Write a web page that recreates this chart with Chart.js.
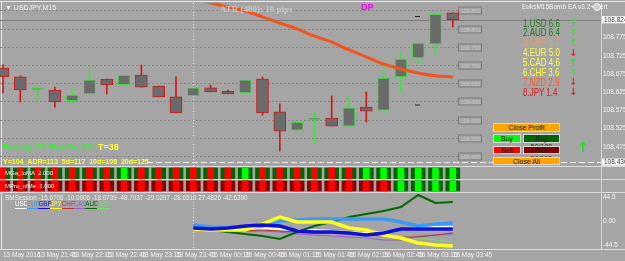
<!DOCTYPE html>
<html>
<head>
<meta charset="utf-8">
<script src="https://cdn.jsdelivr.net/npm/chart.js@4.4.0/dist/chart.umd.min.js"></script>
<style>
  body { margin: 0; width: 625px; height: 261px; overflow: hidden; position: relative; background: #a5a5a5; font-family: "Liberation Sans", Arial, sans-serif; }
  canvas { position: absolute; left: 0; }
  .t { position: absolute; white-space: nowrap; line-height: 1; }
  .btn { position: absolute; font-size: 7px; line-height: 8px; text-align: center; color: #111; box-sizing: border-box; border: 1px solid #d8d8d8; }
  .ln { position: absolute; background: #e6e6e6; }
</style>
</head>
<body>
<div class="ln" style="left:0;top:1px;width:625px;height:1px"></div>
<div class="ln" style="left:1px;top:1px;width:1px;height:248px"></div>
<canvas id="main" width="625" height="163" style="top:3px"></canvas>
<canvas id="heat" width="625" height="27" style="top:166px"></canvas>
<canvas id="osc" width="625" height="68" style="top:193px"></canvas>

<div class="t" style="left:5px;top:4px;font-size:7px;color:#f2f2f2">&#9660; USDJPY,M15</div>
<div class="t" style="left:220px;top:4px;font:bold 9px 'Liberation Serif',serif;color:#c9c9c9">ATR (480): 10 pips</div>
<div class="t" style="left:361px;top:3px;font-weight:bold;font-size:9px;color:#ff00ff">DP</div>
<div class="t" style="left:522px;top:4px;font-size:6.5px;color:#f4f4f4">EuksM15Bomb EA v3.2+Alert</div>
<div class="t" style="left:593px;top:3px;width:6px;height:6px;border-radius:50%;background:#d0d0d0;border:1px solid #f0f0f0"></div>
<div id="board"></div>

<div class="t" style="left:3px;top:143px;font-weight:bold;font-size:9px;color:#3dea3d">RunUp:77</div>
<div class="t" style="left:49px;top:143px;font-weight:bold;font-size:9px;color:#3dea3d">RunDn:111</div>
<div class="t" style="left:98px;top:143px;font-weight:bold;font-size:9px;color:#ffff33">T=38</div>
<div class="t" style="left:3px;top:158px;font-weight:bold;font-size:7px;color:#ffff33">Y=104 &nbsp;ADR=113 &nbsp;5d=117 &nbsp;10d=108 &nbsp;20d=125</div>

<div class="btn" style="left:493px;top:123px;width:67px;height:9px;background:#ffa500">Close Profit</div>
<div class="btn" style="left:493px;top:134px;width:28px;height:9px;background:#00ff00">Buy</div>
<div class="btn" style="left:523px;top:134px;width:37px;height:9px;background:#006400;color:#222">Buy 50/100</div>
<div class="btn" style="left:493px;top:146px;width:28px;height:8px;background:#ff0000">Sell</div>
<div class="btn" style="left:523px;top:146px;width:37px;height:8px;background:#800000;color:#222">Sell 50/100</div>
<div class="btn" style="left:493px;top:157px;width:67px;height:8px;background:#ffa500">Close All</div>
<div class="t" style="left:577px;top:139px;font:bold 14px 'DejaVu Sans',sans-serif;color:#22dd22">&#8593;</div>

<div class="t" style="left:5px;top:170px;font-size:6px;color:#f0f0f0">MGa_loMA &nbsp;2.000</div>
<div class="t" style="left:5px;top:183px;font-size:6px;color:#f0f0f0">MPro_ofMe &nbsp;2.000</div>
<div class="t" style="left:5px;top:195px;font-size:6.3px;color:#f0f0f0">SMSession -15.6706 -10.0906 -18.0739 -48.7037 -29.0297 -28.6510 27.4826 -42.6390</div>
<div id="legend"></div>

<script>
// price bars, USDJPY M15
const barTimes = ['13 May 2016', '', '13 May 21:45', '', '13 May 22:15', '', '13 May 22:45', '', '13 May 23:15', '',
  '13 May 23:45', '', '16 May 00:15', '', '16 May 00:45', '', '16 May 01:15', '', '16 May 01:45', '',
  '16 May 02:15', '', '16 May 02:45', '', '16 May 03:15', '', '16 May 03:45'];
const opens  = [108.691, 108.667, 108.631, 108.631, 108.601, 108.620, 108.661, 108.645, 108.672, 108.642, 108.612, 108.615, 108.637, 108.628,
  108.623, 108.661, 108.571, 108.521, 108.549, 108.554, 108.532, 108.584, 108.576, 108.667, 108.719, 108.757, 108.843];
const highs  = [108.700, 108.670, 108.642, 108.639, 108.634, 108.691, 108.661, 108.672, 108.700, 108.642, 108.667, 108.637, 108.645, 108.631,
  108.659, 108.667, 108.593, 108.543, 108.571, 108.615, 108.615, 108.626, 108.691, 108.733, 108.760, 108.842, 108.843];
const lows   = [108.623, 108.598, 108.604, 108.584, 108.595, 108.620, 108.620, 108.642, 108.639, 108.612, 108.568, 108.615, 108.626, 108.620,
  108.623, 108.562, 108.463, 108.518, 108.483, 108.532, 108.527, 108.543, 108.568, 108.623, 108.705, 108.727, 108.804];
const closes = [108.667, 108.631, 108.633, 108.598, 108.617, 108.659, 108.645, 108.672, 108.639, 108.612, 108.568, 108.637, 108.626, 108.620,
  108.659, 108.568, 108.518, 108.543, 108.551, 108.532, 108.582, 108.573, 108.664, 108.716, 108.760, 108.840, 108.824];
// moving average (starts above the window)
const maValues = [null, null, null, null, null, null, null, null, null, null, null, 108.881, 108.870, 108.859, 108.848, 108.832,
  108.815, 108.799, 108.779, 108.763, 108.741, 108.722, 108.702, 108.689, 108.678, 108.670, 108.667];
const priceTicks = [108.475, 108.525, 108.575, 108.625, 108.675, 108.725, 108.775];
const levelLines = [108.850, 108.800, 108.750, 108.700, 108.650, 108.600, 108.550, 108.500, 108.450];
const markedPrices = [108.824, 108.433];
const markedLabels = ['108.824', '108.430'];
const separatorBar = 11;

// strength board
const boardNames = ['1.USD 6.6', '2.AUD 6.4', '3.GBP 5.7', '4.EUR 5.0', '5.CAD 4.6', '6.CHF 3.6', '7.NZD 2.9', '8.JPY 1.4'];
const boardColors = ['#1d7d1d', '#1d7d1d', '#e0a070', '#ffff44', '#ffff44', '#ffff44', '#ff5a2a', '#e01818'];
const boardArrows = [1, 1, 1, -1, 1, 1, -1, -1];

// heat rows: 1 = up, -1 = down
const heatTop = [-1, -1, -1, -1, -1, -1, -1, 1, -1, -1, -1, -1, -1, -1, 1, -1, -1, -1, -1, -1, -1, 1, 1, 1, 1, 1, 1];
const heatBottom = [-1, -1, -1, -1, -1, -1, -1, -1, -1, -1, -1, -1, -1, -1, -1, -1, -1, -1, -1, -1, -1, -1, -1, 1, 1, 1, 1];

// currency strength lines, bars 11..26
const oscStart = 11;
const currencies = ['USD', 'EUR', 'GBP', 'JPY', 'CHF', 'CAD', 'AUD', 'NZD'];
const currencyColors = ['#ffffff', '#3a9cf0', '#1010d8', '#ffff20', '#c03030', '#9a60cc', '#006a00', '#70e070'];
const currencyWidths = [2, 3.5, 3.5, 3.5, 1, 1, 2, 1];
const usdLine = [-13.0, -13.0, -14.8, -14.8, -13.0, -14.8, -16.7, -16.7, -18.6, -20.4, -22.3, -20.4, -14.8, -13.0, -11.1, -11.1];
const eurLine = [-7.4, -11.1, -13.0, -13.0, -9.3, 0, 1.9, 3.7, 3.7, 3.7, 3.7, 3.7, -1.9, -9.3, -5.6, -3.7];
const gbpLine = [-13.0, -14.8, -13.0, -9.3, -7.4, -9.3, -18.6, -20.4, -20.4, -22.3, -26.0, -22.3, -14.8, -14.8, -14.8, -14.8];
const jpyLine = [-14.8, -16.7, -16.7, -16.7, -5.6, 7.4, -1.9, -1.9, -1.9, -13.0, -16.7, -26.0, -31.5, -40.8, -44.5, -46.4];
const chfLine = [-14.8, -16.7, -18.6, -18.6, -16.7, -18.6, -20.4, -22.3, -22.3, -24.1, -26.0, -27.8, -29.7, -29.7, -26.0, -22.3];
const cadLine = [-14.8, -14.8, -16.7, -18.6, -18.6, -20.4, -24.1, -26.0, -27.8, -29.7, -31.5, -35.3, -35.3, -27.8, -26.0, -24.1];
const audLine = [-13.0, -16.7, -20.4, -24.1, -27.8, -33.4, -20.4, -9.3, -1.9, 7.4, 13.0, 18.6, 26.0, 48.2, 33.4, 35.3];
const nzdLine = [-14.8, -16.7, -14.8, -13.0, -14.8, -16.7, -18.6, -18.6, -20.4, -22.3, -24.1, -27.8, -27.8, -31.5, -35.3, -38.9];
const oscTicks = [-44.5, 0, 44.5];

const BULL = '#3ce63c', BEAR = '#d01818';
const xMin = -0.173, xMax = 34.566;
const fontSmall = { family: 'Liberation Sans', size: 6.5 };

document.getElementById('board').innerHTML = boardNames.map((n, i) =>
  `<div class="t" style="left:523px;top:${17.5 + i * 9.9}px;font-size:10.5px;color:${boardColors[i]};transform:scaleX(0.76);transform-origin:left">${n}</div>` +
  `<div class="t" style="left:569px;top:${17 + i * 9.9}px;font:bold 10px 'DejaVu Sans',sans-serif;color:${boardArrows[i] > 0 ? '#22ee22' : '#ee2020'}">${boardArrows[i] > 0 ? '&#8593;' : '&#8595;'}</div>`
).join('');

document.getElementById('legend').innerHTML = currencies.map((c, i) =>
  `<div class="t" style="left:${15 + i * 11.7}px;top:201px;font-size:6.3px;color:${currencyColors[i]};border-bottom:1px solid ${currencyColors[i]};padding-bottom:1px">${c}</div>`
).join('');

const rightAxis = (extra) => Object.assign({
  position: 'right',
  grid: { display: false, drawTicks: false },
  border: { display: true, color: '#d6d6d6' },
  ticks: { color: '#f4f4f4', font: fontSmall, padding: 2 },
  afterFit(scale) { scale.width = 24; scale.paddingTop = 0; scale.paddingBottom = 0; }
}, extra);

const hiddenX = { type: 'linear', min: xMin, max: xMax, offset: false, display: false };

// --- price window ---
const priceOverlay = {
  id: 'priceOverlay',
  beforeDatasetsDraw(chart) {
    const { ctx, chartArea, scales: { x, y } } = chart;
    ctx.save();
    ctx.lineWidth = 1;
    // level lines with boxed labels
    levelLines.forEach(v => {
      const py = Math.round(y.getPixelForValue(v)) + 0.5;
      ctx.strokeStyle = '#858585';
      ctx.setLineDash([2, 2]);
      ctx.beginPath(); ctx.moveTo(0, py); ctx.lineTo(458, py); ctx.stroke();
      ctx.setLineDash([]);
      ctx.strokeStyle = '#7a7a7a';
      ctx.strokeRect(458.5, py - 3.5, 23, 7);
      ctx.fillStyle = '#c4c4c4';
      ctx.font = '5.5px Liberation Sans';
      ctx.textBaseline = 'middle';
      ctx.fillText(v.toFixed(3), 460.5, py + 0.5);
    });
    // current price line
    let py = Math.round(y.getPixelForValue(markedPrices[0])) + 0.5;
    ctx.strokeStyle = '#7d7d7d';
    ctx.beginPath(); ctx.moveTo(0, py); ctx.lineTo(chartArea.right, py); ctx.stroke();
    // bid line
    py = Math.round(y.getPixelForValue(markedPrices[1])) + 0.5;
    ctx.strokeStyle = '#f4f4f4';
    ctx.setLineDash([6, 3]);
    ctx.beginPath(); ctx.moveTo(147, py); ctx.lineTo(chartArea.right, py); ctx.stroke();
    // day separator
    const sx = Math.round(x.getPixelForValue(separatorBar)) + 0.5;
    ctx.setLineDash([1, 2]);
    ctx.beginPath(); ctx.moveTo(sx, chartArea.top); ctx.lineTo(sx, chartArea.bottom); ctx.stroke();
    ctx.restore();
  },
  afterDraw(chart) {
    const { ctx, chartArea, scales: { y } } = chart;
    ctx.save();
    markedPrices.forEach((v, i) => {
      const py = y.getPixelForValue(v);
      ctx.fillStyle = '#ffffff';
      ctx.fillRect(chartArea.right + 1, py - 3.5, 23, 7);
      ctx.fillStyle = '#333';
      ctx.font = '6.5px Liberation Sans';
      ctx.textBaseline = 'middle';
      ctx.fillText(markedLabels[i], chartArea.right + 3, py);
    });
    // object markers
    ctx.fillStyle = '#222';
    ctx.fillRect(415, y.getPixelForValue(108.826) - 3, 5, 1);
    ctx.fillRect(415, y.getPixelForValue(108.583) - 3, 5, 1);
    ctx.restore();
  }
};

const bull = opens.map((o, i) => closes[i] >= o);
new Chart(document.getElementById('main'), {
  type: 'bar',
  data: {
    datasets: [
      {
        type: 'line', order: -1,
        data: maValues.map((v, i) => ({ x: i, y: v })),
        borderColor: '#f2541c', borderWidth: 3, pointRadius: 0, tension: 0.4, spanGaps: false
      },
      {
        order: 0,
        data: opens.map((o, i) => ({ x: i, y: [Math.min(o, closes[i]), Math.max(o, closes[i])] })),
        backgroundColor: '#6b6b6b',
        borderColor: bull.map(b => b ? BULL : BEAR),
        borderWidth: 1, borderSkipped: false, barThickness: 12, minBarLength: 2, grouped: false
      },
      {
        order: 1,
        data: lows.map((l, i) => ({ x: i, y: [l, highs[i]] })),
        backgroundColor: bull.map(b => b ? BULL : BEAR),
        barThickness: 1, grouped: false
      }
    ]
  },
  options: {
    responsive: false, animation: false, events: [],
    layout: { padding: 0 },
    plugins: { legend: { display: false }, tooltip: { enabled: false } },
    scales: {
      x: hiddenX,
      y: rightAxis({
        min: 108.4223, max: 108.8701,
        afterBuildTicks(scale) { scale.ticks = priceTicks.map(v => ({ value: v })); },
        ticks: { color: '#f4f4f4', font: fontSmall, padding: 2, autoSkip: false, callback: v => v.toFixed(3) }
      })
    }
  },
  plugins: [priceOverlay]
});

// --- heat rows ---
const rowBounds = [[1.04, 1.85], [0.15, 0.89]];
const heatFrame = {
  id: 'heatFrame',
  afterDraw(chart) {
    const { ctx } = chart;
    ctx.save();
    ctx.fillStyle = '#dcdcdc';
    ctx.fillRect(0, 0, 625, 1);
    ctx.fillRect(0, 13, 625, 1);
    ctx.fillRect(0, 26, 625, 1);
    ctx.restore();
  }
};
new Chart(document.getElementById('heat'), {
  type: 'bar',
  data: {
    datasets: [
      { order: 0, data: heatTop.map((s, i) => ({ x: i, y: rowBounds[0] })), backgroundColor: heatTop.map(s => s > 0 ? '#00ff00' : '#ff0000'), barThickness: 6, grouped: false },
      { order: 0, data: heatBottom.map((s, i) => ({ x: i, y: rowBounds[1] })), backgroundColor: heatBottom.map(s => s > 0 ? '#00ff00' : '#ff0000'), barThickness: 6, grouped: false },
      { order: 1, data: heatTop.map((s, i) => ({ x: i, y: rowBounds[0] })), backgroundColor: '#006400', barThickness: 14, grouped: false },
      { order: 1, data: heatBottom.map((s, i) => ({ x: i, y: rowBounds[1] })), backgroundColor: heatBottom.map(s => s > 0 ? '#006400' : '#8a0000'), barThickness: 14, grouped: false }
    ]
  },
  options: {
    responsive: false, animation: false, events: [],
    layout: { padding: 0 },
    plugins: { legend: { display: false }, tooltip: { enabled: false } },
    scales: {
      x: hiddenX,
      y: rightAxis({ min: 0, max: 2, ticks: { display: false }, border: { display: true, color: '#d6d6d6' } })
    }
  },
  plugins: [heatFrame]
});

// --- strength lines ---
const oscSeries = [usdLine, eurLine, gbpLine, jpyLine, chfLine, cadLine, audLine, nzdLine];
const oscSeparator = {
  id: 'oscSeparator',
  beforeDatasetsDraw(chart) {
    const { ctx, chartArea, scales: { x } } = chart;
    const sx = Math.round(x.getPixelForValue(separatorBar)) + 0.5;
    ctx.save();
    ctx.strokeStyle = '#f4f4f4';
    ctx.setLineDash([1, 2]);
    ctx.beginPath(); ctx.moveTo(sx, chartArea.top); ctx.lineTo(sx, chartArea.bottom); ctx.stroke();
    ctx.setLineDash([]);
    ctx.strokeStyle = '#dcdcdc';
    ctx.beginPath(); ctx.moveTo(0, chartArea.bottom + 0.5); ctx.lineTo(625, chartArea.bottom + 0.5); ctx.stroke();
    ctx.restore();
  }
};
new Chart(document.getElementById('osc'), {
  type: 'line',
  data: {
    datasets: oscSeries.map((s, k) => ({
      data: s.map((v, j) => ({ x: oscStart + j, y: v })),
      borderColor: currencyColors[k], borderWidth: currencyWidths[k], pointRadius: 0, tension: 0,
      order: [5, 3, 1, 2, 6, 7, 4, 8][k]
    }))
  },
  options: {
    responsive: false, animation: false, events: [],
    layout: { padding: 0 },
    plugins: { legend: { display: false }, tooltip: { enabled: false } },
    scales: {
      x: {
        type: 'linear', min: xMin, max: xMax, position: 'bottom',
        grid: { display: false, drawTicks: false },
        border: { display: false },
        afterBuildTicks(scale) { scale.ticks = barTimes.map((t, i) => ({ value: i })).filter(t => barTimes[t.value]); },
        ticks: { color: '#f4f4f4', font: fontSmall, padding: 2, align: 'start', autoSkip: false, maxRotation: 0, callback: v => barTimes[v] },
        afterFit(scale) { scale.height = 12; scale.paddingLeft = 0; scale.paddingRight = 0; }
      },
      y: rightAxis({
        min: -51.9, max: 51.9,
        afterBuildTicks(scale) { scale.ticks = oscTicks.map(v => ({ value: v })); },
        ticks: { color: '#f4f4f4', font: fontSmall, padding: 2, autoSkip: false, callback: v => v === 0 ? '0.00' : String(v) }
      })
    }
  },
  plugins: [oscSeparator]
});
</script>
</body>
</html>
